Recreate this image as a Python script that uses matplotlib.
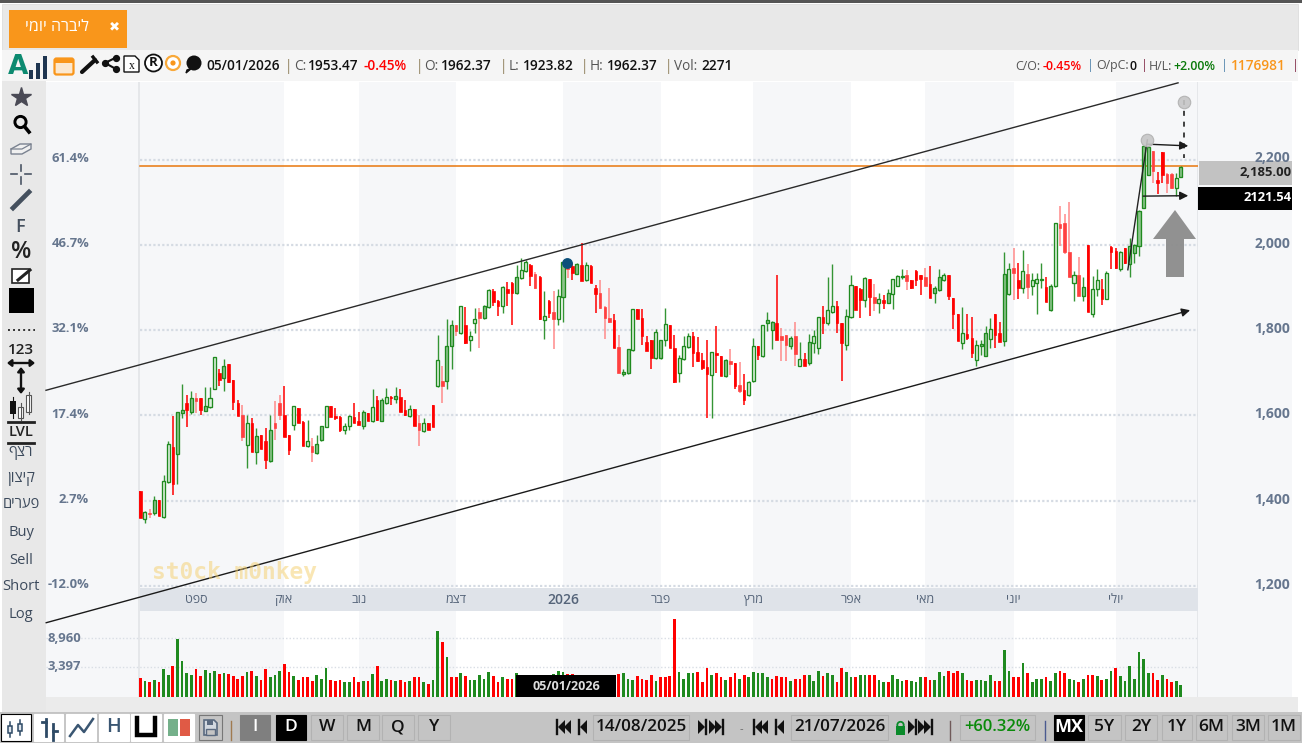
import matplotlib
matplotlib.use("Agg")
import matplotlib.pyplot as plt
from matplotlib.patches import Rectangle, Polygon, Circle, FancyBboxPatch
from matplotlib.ticker import NullLocator

plt.rcParams['font.family'] = ['Open Sans', 'Liberation Sans', 'DejaVu Sans']

# ---------------- data ----------------
opens = [1422,1356,1371,1371,1401,1362,1443,1525,1509,1605,1629,1607,1641,1640,1611,1620,1662,1700,1688,1720,
1683,1629,1602,1531,1582,1515,1553,1539,1493,1582,1629,1602,1553,1578,1617,1584,1527,1527,1511,1543,
1572,1621,1599,1596,1566,1576,1596,1587,1576,1606,1586,1635,1587,1629,1643,1639,1643,1612,1599,1615,
1582,1564,1582,1625,1668,1680,1680,1762,1813,1794,1813,1778,1816,1842,1829,1855,1893,1868,1858,1897,
1911,1888,1922,1938,1954,1933,1925,1824,1868,1842,1827,1877,1954,1952,1933,1954,1918,1952,1900,1888,
1855,1829,1825,1761,1698,1700,1753,1849,1829,1772,1778,1735,1735,1776,1813,1758,1700,1733,1761,1786,
1749,1729,1714,1696,1747,1739,1692,1727,1722,1672,1660,1648,1680,1762,1740,1816,1800,1817,1787,1789,
1764,1787,1717,1732,1723,1769,1758,1831,1816,1842,1858,1816,1766,1831,1904,1898,1871,1920,1879,1865,
1872,1865,1884,1905,1924,1929,1917,1939,1929,1924,1908,1887,1894,1917,1929,1876,1839,1770,1792,1782,
1729,1762,1739,1780,1837,1794,1774,1884,1947,1918,1900,1931,1905,1910,1918,1902,1847,1904,2049,2052,
1984,1910,1929,1880,2000,1838,1896,1898,1873,1995,1986,1945,1994,1955,1982,1998,2087,2165,2220,2154,
2218,2168,2168,2134,2161]
highs = [1422,1375,1381,1410,1401,1460,1539,1599,1609,1673,1649,1657,1653,1641,1667,1667,1738,1709,1733,1721,
1684,1637,1625,1602,1595,1570,1554,1570,1602,1633,1649,1670,1554,1623,1617,1586,1590,1546,1554,1576,
1623,1621,1617,1598,1582,1602,1629,1609,1613,1606,1661,1645,1641,1665,1645,1666,1661,1637,1625,1615,
1602,1594,1582,1625,1790,1715,1827,1825,1813,1858,1855,1799,1852,1852,1860,1896,1896,1871,1905,1913,
1913,1954,1970,1966,1956,1936,1927,1893,1872,1893,1896,1960,1958,1958,1958,2004,1960,1954,1907,1917,
1857,1900,1837,1790,1710,1756,1851,1851,1849,1786,1778,1804,1778,1852,1813,1790,1743,1787,1794,1795,
1784,1747,1776,1748,1811,1739,1733,1756,1723,1725,1698,1680,1782,1762,1813,1842,1821,1929,1806,1790,
1787,1820,1772,1746,1792,1800,1831,1858,1926,1955,1868,1817,1849,1929,1905,1900,1924,1921,1908,1888,
1882,1898,1921,1929,1943,1941,1917,1941,1929,1947,1950,1904,1943,1935,1929,1876,1839,1855,1837,1831,
1778,1778,1809,1829,1837,1819,1983,1959,1994,1959,1988,1955,1935,1935,1959,1924,1908,2052,2091,2073,
2101,1939,1973,1924,2000,1927,1945,1920,1939,1998,1994,1986,1994,2017,2002,2082,2233,2232,2222,2171,
2218,2169,2169,2169,2185]
lows = [1359,1347,1358,1367,1363,1360,1442,1414,1439,1594,1572,1604,1606,1602,1611,1617,1661,1670,1657,1676,
1613,1598,1540,1476,1515,1487,1520,1473,1491,1543,1590,1549,1506,1565,1582,1529,1525,1491,1510,1539,
1572,1596,1590,1562,1556,1566,1583,1578,1568,1586,1584,1588,1586,1627,1625,1629,1607,1599,1596,1574,
1529,1562,1566,1572,1666,1629,1662,1709,1787,1792,1768,1751,1794,1758,1827,1853,1856,1834,1841,1858,
1813,1886,1921,1936,1905,1897,1825,1780,1829,1756,1813,1819,1923,1918,1931,1915,1915,1911,1841,1850,
1780,1817,1758,1700,1692,1698,1751,1827,1766,1751,1709,1733,1733,1764,1758,1676,1678,1731,1758,1714,
1725,1707,1594,1594,1700,1692,1690,1696,1662,1653,1625,1646,1678,1731,1738,1798,1756,1778,1727,1727,
1756,1717,1715,1715,1719,1746,1745,1792,1813,1840,1794,1680,1754,1829,1847,1829,1855,1833,1845,1841,
1850,1863,1850,1903,1921,1894,1898,1904,1882,1904,1876,1865,1892,1915,1872,1803,1774,1756,1776,1735,
1715,1743,1739,1758,1758,1772,1762,1882,1872,1874,1887,1874,1882,1839,1900,1866,1845,1902,1998,1979,
1924,1868,1880,1868,1842,1832,1881,1859,1873,1943,1943,1939,1955,1924,1959,1974,2087,2165,2146,2121,
2146,2122,2132,2115,2160]
closes = [1359,1373,1369,1402,1363,1447,1532,1440,1609,1612,1612,1641,1633,1613,1623,1641,1737,1684,1717,1678,
1631,1599,1550,1583,1515,1552,1520,1495,1565,1570,1600,1550,1519,1621,1583,1529,1539,1513,1533,1574,
1621,1596,1595,1565,1576,1598,1583,1578,1607,1586,1619,1590,1635,1643,1640,1645,1609,1601,1615,1576,
1566,1582,1566,1572,1729,1670,1762,1813,1798,1856,1770,1787,1827,1829,1858,1894,1866,1858,1902,1888,
1888,1925,1941,1961,1927,1900,1827,1834,1841,1827,1880,1960,1943,1935,1956,1915,1954,1911,1885,1853,
1829,1819,1758,1700,1703,1755,1850,1827,1787,1751,1735,1795,1778,1815,1758,1678,1735,1764,1786,1747,
1727,1711,1698,1748,1743,1692,1729,1721,1670,1658,1635,1679,1764,1743,1812,1824,1819,1778,1776,1765,
1782,1745,1732,1717,1772,1787,1831,1817,1847,1858,1816,1769,1833,1906,1847,1871,1922,1879,1865,1874,
1865,1888,1920,1927,1927,1916,1900,1918,1921,1905,1876,1899,1924,1929,1880,1839,1774,1794,1782,1746,
1765,1768,1794,1803,1790,1772,1933,1943,1934,1900,1939,1902,1918,1920,1921,1866,1905,2052,2039,1983,
1924,1929,1880,1902,1842,1896,1918,1873,1934,1984,1947,1984,1959,1999,2000,2080,2232,2230,2173,2146,
2165,2146,2134,2158,2183]
volumes = [1800,1370,1245,1545,1245,3170,2250,3620,8830,4495,2444,2250,3067,2100,3015,2444,2800,2295,2444,2295,
2100,1724,2100,2649,2857,2100,1590,3067,1911,2250,2857,3905,2649,2100,1590,1911,1911,1415,2250,1724,
3230,1590,1415,1590,1290,1330,1911,1245,1415,1415,2295,3620,1370,1724,1590,1415,1590,1245,1415,1911,
1911,1245,1083,1590,10460,8200,5165,1911,1911,2444,2100,1590,1590,2250,1724,2649,2100,1245,1911,1724,
1724,2444,2100,2000,2250,2100,2200,2200,2100,2300,2850,2600,2400,2300,2200,2100,2000,2200,2100,2000,
2100,2200,2100,2295,2444,1724,1500,2100,1724,1590,2250,1415,1911,1911,2100,13460,2649,1724,2444,2444,
2649,1245,3230,2250,2444,1911,1590,1911,2444,1724,2250,1911,2649,2444,2444,1911,1724,2100,1911,1911,
1415,1724,1724,2250,2250,1415,2857,2100,2444,2250,1245,3230,2649,1911,1911,2250,2250,2250,2250,1590,
1245,1245,2250,1724,1415,1590,1415,1245,1911,1911,1590,1590,2649,2100,2857,2444,2857,2444,1590,1415,
1590,1590,1415,2250,1415,1415,6450,2857,1911,1911,4090,2444,1245,1724,1724,1911,1415,2444,2857,2444,
1724,1590,1245,1724,2250,2250,2100,1590,1724,2857,3230,2100,1415,3620,1724,6190,4760,2444,2444,1590,
2250,1724,1245,1415,930]
# bars of the volume pane that are red (all others are green)
volume_red = {0,2,4,7,12,13,17,19,20,21,22,24,26,27,31,32,34,35,36,37,41,42,43,46,47,49,51,54,56,57,59,60,62,65,67,68,70,76,77,79,80,
          82,83,85,87,92,93,95,97,99,101,103,107,108,109,110,112,113,114,115,120,121,122,124,125,127,128,130,136,137,138,139,141,142,143,
          147,150,151,154,157,158,161,165,169,170,174,175,176,178,179,184,185,188,189,191,195,198,199,202,204,205,207,210,218,219,221,222}
month_starts = [31,47,68,91,112,132,153,169,188,210]
month_tick_pos = [12,31,47,68,91,112,132,153,169,188,210]
month_labels = ["ספט","אוק","נוב","דצמ","2026","פבר","מרץ","אפר","מאי","יוני","יולי"]
price_ticks = [1200,1400,1600,1800,2000,2200]
price_labels = ["1,200","1,400","1,600","1,800","2,000","2,200"]
percent_labels = ["-12.0%","2.7%","17.4%","32.1%","46.7%","61.4%"]
volume_ticks = [3397,8960]
volume_labels = ["3,397","8,960"]
hollow = {1,5,6,15,16,23,33,36,40,44,45,50,53,58,61,64,69,71,72,75,78,82,83,87,90,96,106,111,113,116,117,118,123,131,132,134,
          142,145,146,148,149,152,153,156,159,162,163,173,177,180,183,187,190,192,193,197,201,205,206,208,211,223}
faded = {2,12,22,29,30,37,60,65,68,73,85,89,92,99,100,101,103,127,129,138,139,141,158,165,169,188,191,198,199,200,202,218,221,222}
level_price = 2185
last_close_box = 2121.54
upper_line_idx = [-20.3, 223.4]; upper_line_p = [1659, 2381]
lower_line_idx = [-20.3, 226.0]; lower_line_p = [1113, 1847]
steep_idx = [212.6, 216.8]; steep_p = [1942, 2247]
pivot_idx = [216.8, 224.7]; pivot_p = [2247, 2356]
arrow1_idx = [216.8, 225.6]; arrow1_p = [2237, 2233]
arrow2_idx = [215.9, 225.6]; arrow2_p = [2115, 2116]
dot_idx = 91.8; dot_p = 1957

W, H = 1302, 746
fig = plt.figure(figsize=(W/100, H/100), dpi=100, facecolor='white')
def axpx(x0, y0, x1, y1, **k):
    return fig.add_axes([x0/W, 1-y1/H, (x1-x0)/W, (y1-y0)/H], **k)

ui = axpx(0, 0, W, H, zorder=1)
ui.set_xlim(0, W); ui.set_ylim(H, 0); ui.axis('off')
top = axpx(0, 0, W, H, zorder=8)
top.set_xlim(0, W); top.set_ylim(H, 0); top.axis('off')

def rect(a, x0, y0, x1, y1, fc, ec='none', lw=0, z=1, **k):
    a.add_patch(Rectangle((x0, y0), x1-x0, y1-y0, fc=fc, ec=ec, lw=lw, zorder=z, **k))
def txt(a, x, y, s, size=10, color='#222', ha='left', va='center', weight='normal', z=5, **k):
    a.text(x, y, s, fontsize=size, color=color, ha=ha, va=va, fontweight=weight, zorder=z, **k)
def heb(s):
    return s[::-1]

# chrome
rect(ui, 0, 0, W, 3, '#555555')
rect(ui, 2, 4, 1298, 50, '#e8e8e8', ec='#dddddd', lw=0.6)
rect(ui, 2, 50, 1298, 81, '#f5f5f5')
rect(ui, 2, 81, 46, 712, '#e8e8e8')
rect(ui, 46, 696.5, 1298, 712, '#ebebeb')
rect(ui, 0, 712, W, 743, '#c4c4c4')
rect(ui, 1198, 82, 1292, 696.5, '#f6f7f9')
rect(ui, 46, 82, 1198, 696.5, 'white')
rect(ui, 9, 10, 127, 48, '#f9961b')
txt(ui, 57, 27, heb("ליברה יומי"), size=11.5, color='white', ha='center')
txt(ui, 114.5, 26.5, "✖", size=9.5, color='white', ha='center', family='DejaVu Sans')

# main axes
ax = axpx(46, 82, 1198, 587, zorder=5)
xlim = (-20.3, 227.7)
ax.set_xlim(*xlim); ax.set_ylim(1197, 2383)
ax.patch.set_visible(False)
for s in ax.spines.values(): s.set_visible(False)
ax.xaxis.set_major_locator(NullLocator()); ax.yaxis.set_major_locator(NullLocator())
vol = axpx(46, 610, 1198, 696.5, zorder=3)
vol.set_xlim(*xlim)
vol.set_yscale('function', functions=(lambda v: abs(v)**0.714, lambda v: abs(v)**(1/0.714)))
vol.set_ylim(0, 15600)
vol.patch.set_visible(False)
for s in vol.spines.values(): s.set_visible(False)
vol.xaxis.set_major_locator(NullLocator()); vol.yaxis.set_major_locator(NullLocator())

back = axpx(46, 82, 1198, 696.5, zorder=2)
back.set_xlim(*xlim); back.set_ylim(0, 1); back.axis('off')
edges = [xlim[0]] + month_starts + [xlim[1]]
for k in range(0, len(edges)-1, 2):
    back.axvspan(edges[k], edges[k+1], color='#f6f7f9', lw=0, zorder=1)
back.axvline(-0.2, color='#e2e4e8', lw=1.2, zorder=2)
back.axvline(xlim[1]-0.05, color='#e2e4e8', lw=1.2, zorder=2)
band = axpx(140, 588, 1198, 610.5, zorder=2.5)
band.set_facecolor('#dfe3e9'); band.set_xticks([]); band.set_yticks([])
for s in band.spines.values(): s.set_visible(False)

for p in price_ticks:
    ax.plot([0, xlim[1]], [p, p], color='#d5dbe3', lw=1.6, ls=(0, (1, 1)), zorder=1)
ax.plot([0, xlim[1]], [level_price]*2, color='#e8760c', lw=1.1, zorder=2)

G_E, G_F, R = '#1f8a1f', '#8cc48c', '#ff0000'
n = len(closes)
for i in range(n):
    o, h, l, c = opens[i], highs[i], lows[i], closes[i]
    if c >= o:
        fc = '#dcefdc' if i in hollow else G_F
        ax.vlines(i, l, h, color=G_E, lw=1.0, zorder=3, alpha=0.9)
        ax.bar(i, c-o, bottom=o, width=0.66, fc=fc, ec=G_E, lw=0.95, zorder=4)
    else:
        light = i in faded
        ax.vlines(i, l, h, color='#ff8a8a' if light else R, lw=1.1, zorder=3)
        ax.bar(i, o-c, bottom=c, width=0.55, fc='#ff4040' if light else R, ec='#ff4040' if light else R, lw=0.5, zorder=4)

for v in volume_ticks:
    vol.plot(list(xlim), [v, v], color='#d9dee5', lw=1.0, ls=(0, (1, 1.5)), zorder=1)
for i in range(n):
    vol.bar(i, volumes[i], width=0.58, color=R if i in volume_red else '#1f8a1f', lw=0, zorder=3)

# overlays
ax.plot(upper_line_idx, upper_line_p, color='#2a2a2a', lw=1.0, clip_on=False, zorder=6)
def arrow(ix, pr, lw=1.0):
    ax.annotate('', xy=(ix[1], pr[1]), xytext=(ix[0], pr[0]), annotation_clip=False, zorder=7,
                arrowprops=dict(arrowstyle='-|>,head_length=0.5,head_width=0.25', color='#1a1a1a', lw=lw, shrinkA=0, shrinkB=0))
arrow(lower_line_idx, lower_line_p)
arrow(arrow1_idx, arrow1_p)
arrow(arrow2_idx, arrow2_p)
ax.plot(steep_idx, steep_p, color='#222222', lw=1.0, zorder=6)
ax.plot([pivot_idx[1]]*2, [2340, 2205], color='#222222', lw=1.2, ls=(0, (3, 3.5)), zorder=6)
ax.plot(pivot_idx, [pivot_p[0], 2337], ls='none', marker='o', ms=9, mfc='#c6c6c6', mec='#b0b0b0', mew=0.8, zorder=7, alpha=0.9)
ax.plot(dot_idx, dot_p, 'o', ms=6.8, color='#0b4f7a', zorder=8)
top.add_patch(Polygon([(1175,210),(1196,239),(1184,239),(1184,277),(1166,277),(1166,239),(1153,239)],
                      fc='#8c8c8c', ec='none', alpha=0.95, zorder=4))

# watermark
top.text(234, 572, "st0ck m0nkey", fontsize=16.5, fontweight='bold', family='DejaVu Sans Mono', color='#f5cf6a', alpha=0.5,
         ha='center', va='center', zorder=1)

# axis labels
for p, s, q in zip(price_ticks, price_labels, percent_labels):
    py = 245.5 + (2000-p)*0.4267
    txt(top, 1290, py-2, s, size=10, color='#66768e', ha='right', weight='bold')
    txt(top, 89, py-2, q, size=9.4, color='#66768e', ha='right', weight='bold')
for xp, s in zip(month_tick_pos, month_labels):
    label = s if s.isdigit() else heb(s)
    ax.text(xp, -0.0257, label, transform=ax.get_xaxis_transform(), va='center', ha='center', fontsize=10 if s.isdigit() else 9,
            color='#556479', fontweight='semibold' if s.isdigit() else 'normal', zorder=9, clip_on=False)
for v, s, py in zip(volume_ticks, volume_labels, [667, 638]):
    txt(top, 47, py, s, size=9.4, color='#66768e', weight='bold')

rect(top, 1199, 161, 1292, 185, '#c2c2c2', z=3)
rect(top, 1198, 187, 1292, 209.5, '#000000', z=3)
txt(top, 1292, 173, f"{level_price:,.2f}", size=9.4, color='#222', ha='right', weight='bold')
txt(top, 1292, 197.5, f"{last_close_box}", size=9.4, color='white', ha='right', weight='bold')
rect(top, 516, 675, 616, 697, '#000000', z=3)
txt(top, 566, 686.5, "05/01/2026", size=9, color='#dddddd', ha='center', weight='bold')

# header runs
H_Y = 66
hd = [(206,"05/01/2026",'#111','semibold'),(285,"|",'#8a7a55','normal'),(294,"C:",'#555','normal'),(308,"1953.47",'#111','semibold'),
      (364,"-0.45%",'#ff0000','semibold'),(416,"|",'#8a7a55','normal'),(424,"O:",'#555','normal'),(441,"1962.37",'#111','semibold'),
      (500,"|",'#8a7a55','normal'),(509,"L:",'#555','normal'),(523,"1923.82",'#111','semibold'),(581,"|",'#8a7a55','normal'),
      (590,"H:",'#555','normal'),(607,"1962.37",'#111','semibold'),(665,"|",'#8a7a55','normal'),(674,"Vol:",'#555','normal'),(701,"2271",'#111','semibold')]
for x, s, c, w in hd:
    txt(top, x, H_Y, s, size=9.8, color=c, weight=w)
hr = [(1015,"C/O:",'#555','normal'),(1043,"-0.45%",'#ff0000','semibold'),(1087,"|",'#5a8ab0','normal'),(1096,"O/pC:",'#555','normal'),
      (1129,"0",'#111','semibold'),(1141,"|",'#8a3a55','normal'),(1149,"H/L:",'#555','normal'),(1173,"+2.00%",'#0a7a0a','semibold'),
      (1221,"|",'#5a8ab0','normal'),(1231,"1176981",'#f9961b','semibold'),(1292,"|",'#8a3a55','normal')]
for x, s, c, w in hr:
    txt(top, x, H_Y, s, size=8.9 if x != 1231 else 9.8, color=c, weight=w)

# header icons
top.text(18, 67, "A", fontsize=19, fontweight='bold', color='#0c8a70', ha='center', va='center', family='DejaVu Sans')
for x, y0 in [(31, 70), (38, 63), (45, 56)]:
    rect(top, x-1.6, y0, x+1.8, 79, '#1e3550')
top.add_patch(FancyBboxPatch((55, 59), 18, 15, boxstyle='round,pad=0.5,rounding_size=2', fc='#fbe8d0', ec='#f9961b', lw=1.6))
rect(top, 55, 59, 73, 63, '#f9961b', z=3)
top.plot([82, 95], [72, 60], color='#111', lw=3, solid_capstyle='round')
top.plot([93, 97], [57, 62], color='#111', lw=2.4)
top.plot([105, 116, 116], [63, 57.5, 69], ls='none', marker='o', ms=4.2, color='#111')
top.plot([116, 105, 116], [57.5, 63, 69], color='#111', lw=1.5)
top.add_patch(Polygon([(124,56),(135,56),(139,60),(139,72),(124,72)], fc='white', ec='#111', lw=1))
txt(top, 131.5, 66, "x", size=8.5, color='#111', ha='center', family='Liberation Serif')
top.add_patch(Circle((153.5, 63), 8.5, fc='white', ec='#111', lw=1.3))
txt(top, 153.5, 63, "R", size=9.5, color='#111', ha='center', weight='bold')
top.add_patch(Circle((173, 63), 7, fc='white', ec='#f9a93a', lw=1.6))
top.add_patch(Circle((173, 63), 2.6, fc='#f9961b', ec='none'))
top.add_patch(Circle((194, 63), 7.5, fc='#111', ec='none'))
top.add_patch(Polygon([(187,70),(192,68),(186,73)], fc='#111', ec='#111'))

# left toolbar
top.plot([21], [97], marker='*', ms=15, color='#4a4a55')
top.add_patch(Circle((20.5, 122), 5.6, fc='none', ec='#000', lw=2.1))
top.plot([24.5, 29], [126.5, 132], color='#000', lw=2.6)
top.add_patch(Polygon([(11,149),(20,144),(31,144),(31,149),(22,154),(11,154)], fc='#f0f0f0', ec='#7a8290', lw=1))
top.plot([11, 22, 31], [149, 149, 144], color='#7a8290', lw=0.9)
for a, b in [((11,174),(17,174)), ((25,174),(31,174)), ((21,165),(21,171)), ((21,177),(21,184))]:
    top.plot([a[0], b[0]], [a[1], b[1]], color='#4a5565', lw=1.2)
top.plot([13, 29], [208, 192], color='#45505e', lw=3.4)
txt(top, 20.5, 227, "F", size=13, color='#45505e', ha='center', weight='semibold')
txt(top, 21, 252, "%", size=17, color='#222', ha='center', weight='semibold')
rect(top, 12, 269, 29, 283, 'white', ec='#222', lw=1.2)
top.plot([18, 30], [280, 270], color='#222', lw=2.2)
rect(top, 9, 288, 34, 313, '#000000')
top.plot([8, 35], [329.5, 329.5], color='#333', lw=1.4, ls=(0, (1, 1.6)))
txt(top, 21, 349.5, "123", size=11, color='#222', ha='center', weight='semibold')
top.annotate('', xy=(35, 363), xytext=(7, 363), arrowprops=dict(arrowstyle='<|-|>,head_length=0.25,head_width=0.2', color='#111', lw=1.7, shrinkA=0, shrinkB=0))
top.annotate('', xy=(21, 394), xytext=(21, 367), arrowprops=dict(arrowstyle='<|-|>,head_length=0.25,head_width=0.2', color='#111', lw=1.7, shrinkA=0, shrinkB=0))
rect(top, 10, 401, 15.5, 414, '#111')
top.plot([12.7, 12.7], [397, 418], color='#111', lw=0.8)
rect(top, 18, 407, 23, 418, 'white', ec='#555', lw=0.8)
top.plot([20.5, 20.5], [403, 420], color='#555', lw=0.8)
rect(top, 26, 395, 31, 412, 'white', ec='#555', lw=0.8)
top.plot([28.5, 28.5], [392, 414], color='#555', lw=0.8)
top.plot([8, 34], [422, 422], color='#222', lw=2)
txt(top, 21, 432.5, "LVL", size=10.5, color='#222', ha='center', weight='semibold')
top.plot([8, 34], [443, 443], color='#222', lw=2)
for y, s in [(452, "רצף"), (479, "קיצון"), (505, "פערים")]:
    txt(top, 21, y, heb(s), size=10.5, color='#3c4a5c', ha='center')
for y, s in [(533, "Buy"), (560, "Sell"), (587, "Short"), (614, "Log")]:
    txt(top, 21, y, s, size=10.6, color='#3c4a5c', ha='center')

# bottom toolbar
BY0, BY1 = 715, 740
def btn(x0, x1, s, fc='#c4c4c4', tc='#111', ec='#b2b2b2', size=12.5, weight='semibold', y0=BY0, y1=BY1):
    rect(top, x0, y0, x1, y1, fc, ec=ec, lw=0.8, z=3)
    if s:
        txt(top, (x0+x1)/2, (y0+y1)/2-0.5, s, size=size, color=tc, ha='center', weight=weight)
for x0, x1 in [(1, 31), (34, 63), (66, 96), (99, 129), (131, 161), (164, 194)]:
    btn(x0, x1, '', fc='white', ec='#000000' if x0 == 1 else 'white', y0=714, y1=741)
for x, a, b in [(10, 722, 737), (20, 720, 735)]:
    top.plot([x, x], [a, b], color='#2e4a66', lw=1.1, zorder=6)
    rect(top, x-2, a+4, x+2, b-4, '#dfe6ee', ec='#2e4a66', lw=1.1, z=6)
top.plot([46, 46], [719, 736], color='#2e4a66', lw=2, zorder=6)
top.plot([42, 46], [722, 722], color='#2e4a66', lw=2, zorder=6)
top.plot([53, 53], [724, 740], color='#2e4a66', lw=2, zorder=6)
top.plot([53, 57], [731, 731], color='#2e4a66', lw=2, zorder=6)
top.plot([70, 78, 84, 93], [736, 725, 732, 719], color='#3a5672', lw=1.8, zorder=6)
txt(top, 114, 727.5, "H", size=14, color='#3a5672', ha='center', weight='semibold')
top.plot([137, 137, 155, 155], [718, 735, 735, 718], color='#000', lw=3.2, zorder=6, solid_joinstyle='miter')
rect(top, 168, 719, 178, 736, '#74b08a', z=6)
rect(top, 180, 719, 190, 736, '#e05a45', z=6)
btn(199, 222, '', fc='#c4c4c4', ec='#777777')
top.add_patch(Polygon([(204,720),(214,720),(217,723),(217,735),(204,735)], fc='#d2d8e0', ec='#5a6a80', lw=1.2, zorder=6))
rect(top, 207, 720, 213, 725, '#5a6a80', z=7)
rect(top, 206, 729, 215, 735, '#c4c4c4', ec='#5a6a80', lw=1, z=7)
top.plot([231, 231], [721, 740], color='#a07a50', lw=1, zorder=6)
btn(240, 270, 'I', fc='#7f7f7f', tc='white', ec='#7f7f7f')
btn(276, 306, 'D', fc='#000000', tc='white', ec='#000000')
for x0, x1, s in [(311, 343, 'W'), (347, 379, 'M'), (382, 414, 'Q'), (418, 450, 'Y')]:
    btn(x0, x1, s)
def nav(x, d, double):
    top.plot([x, x], [720, 734], color='#111', lw=1.7, zorder=6)
    top.add_patch(Polygon([(x+1*d, 727), (x+8*d, 720), (x+8*d, 734)], fc='#111', ec='none', zorder=6))
    if double:
        top.add_patch(Polygon([(x+7*d, 727), (x+14*d, 720), (x+14*d, 734)], fc='#111', ec='none', zorder=6))
nav(557, 1, True); nav(579, 1, False)
btn(593, 689, '14/08/2025', size=12.3)
nav(706, -1, False); nav(723, -1, True)
txt(top, 741, 730, "-", size=8, color='#666', ha='center')
nav(754, 1, True); nav(776, 1, False)
btn(791, 888, '21/07/2026', size=12.3)
rect(top, 896, 726, 905, 735, '#0a8a2a', z=6)
top.add_patch(Circle((900.5, 725), 3.2, fc='none', ec='#0a8a2a', lw=1.3, zorder=6))
nav(916, -1, False); nav(932, -1, True)
top.plot([950, 950], [721, 740], color='#705a5a', lw=1, zorder=6)
btn(960, 1035, '+60.32%', tc='#0a8a0a', size=12)
top.plot([1045, 1045], [721, 740], color='#4a5a90', lw=1, zorder=6)
btn(1054, 1084, 'MX', fc='#000000', tc='white', ec='#000000', size=13, weight='bold')
for x0, x1, s in [(1088, 1121, '5Y'), (1125, 1157, '2Y'), (1162, 1192, '1Y'), (1196, 1227, '6M'), (1232, 1264, '3M'), (1268, 1300, '1M')]:
    btn(x0, x1, s)

fig.savefig('out.png', dpi=100, facecolor='white')
